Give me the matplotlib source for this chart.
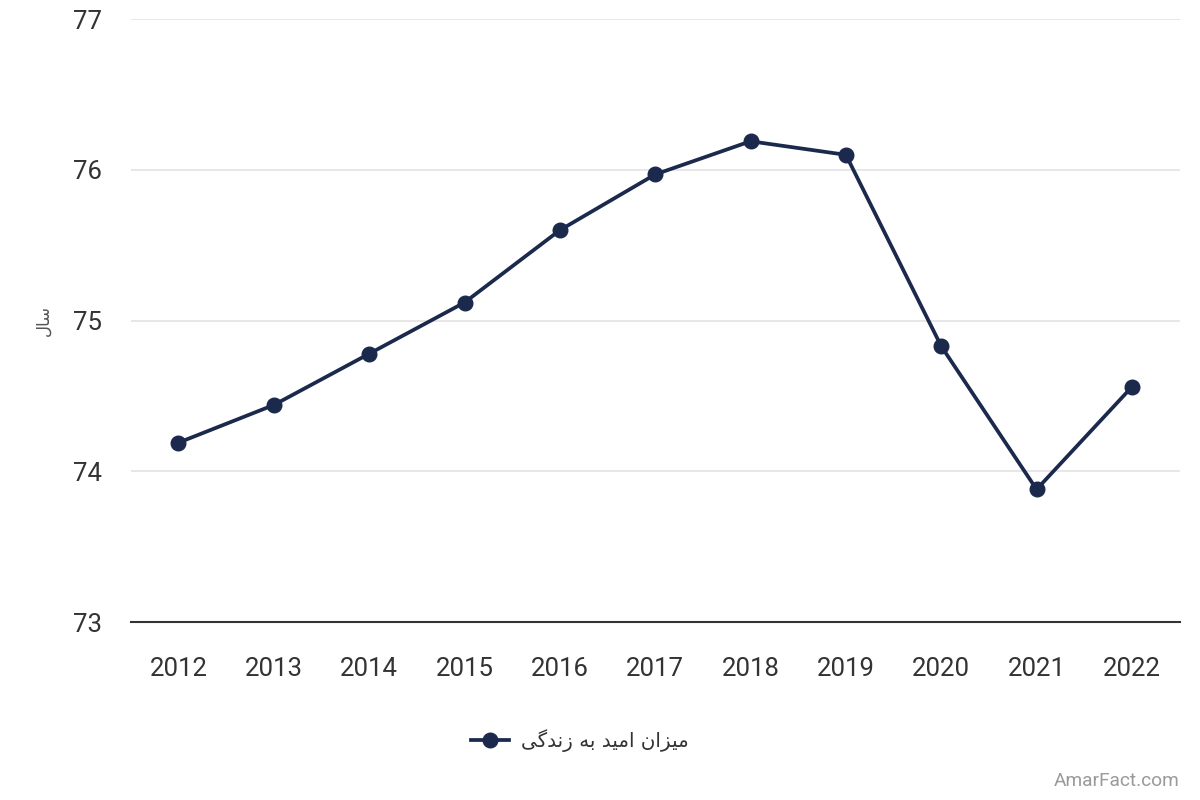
import matplotlib

matplotlib.use("Agg")
import matplotlib.pyplot as plt
from matplotlib.lines import Line2D

years = ["2012", "2013", "2014", "2015", "2016", "2017", "2018", "2019", "2020", "2021", "2022"]
life_expectancy = [74.19, 74.44, 74.78, 75.12, 75.60, 75.97, 76.19, 76.10, 74.83, 73.88, 74.56]
y_ticks = [73, 74, 75, 76, 77]
series_name = "میزان امید به زندگی"
y_label = "سال"
watermark = "AmarFact.com"

LINE_COLOR = "#1b2a4c"
TEXT_COLOR = "#333333"

# matplotlib has no Arabic shaping, so map letters to presentation forms
# (isolated, final[, initial, medial]) and reverse for visual order
FORMS = {
    "ا": ("\uFE8D", "\uFE8E"),
    "د": ("\uFEA9", "\uFEAA"),
    "ز": ("\uFEAF", "\uFEB0"),
    "ب": ("\uFE8F", "\uFE90", "\uFE91", "\uFE92"),
    "س": ("\uFEB1", "\uFEB2", "\uFEB3", "\uFEB4"),
    "ل": ("\uFEDD", "\uFEDE", "\uFEDF", "\uFEE0"),
    "م": ("\uFEE1", "\uFEE2", "\uFEE3", "\uFEE4"),
    "ن": ("\uFEE5", "\uFEE6", "\uFEE7", "\uFEE8"),
    "ه": ("\uFEE9", "\uFEEA", "\uFEEB", "\uFEEC"),
    "ی": ("\uFBFC", "\uFBFD", "\uFBFE", "\uFBFF"),
    "گ": ("\uFB92", "\uFB93", "\uFB94", "\uFB95"),
}


def shape_fa(text):
    out = []
    for i, ch in enumerate(text):
        forms = FORMS.get(ch)
        if forms is None:
            out.append(ch)
            continue
        prev = text[i - 1] if i > 0 else ""
        nxt = text[i + 1] if i + 1 < len(text) else ""
        join_prev = prev in FORMS and len(FORMS[prev]) == 4
        join_next = len(forms) == 4 and nxt in FORMS
        if join_prev and join_next:
            out.append(forms[3])
        elif join_prev:
            out.append(forms[1])
        elif join_next:
            out.append(forms[2])
        else:
            out.append(forms[0])
    return "".join(reversed(out))


plt.rcParams["font.family"] = ["Roboto", "DejaVu Sans"]

fig = plt.figure(figsize=(12, 8), dpi=100)
ax = fig.add_axes([0.109, 0.2225, 0.874, 0.7535])

x = list(range(len(years)))
ax.plot(x, life_expectancy, color=LINE_COLOR, linewidth=2.7, marker="o",
        markersize=10.5, zorder=3, clip_on=False)

ax.set_xlim(-0.5, len(years) - 0.5)
ax.set_ylim(73, 77)
ax.set_yticks(y_ticks)
ax.set_yticklabels([str(t) for t in y_ticks])
ax.set_xticks(x)
ax.set_xticklabels(years)

ax.grid(axis="y", color="#e3e3e3", linewidth=1.2)
ax.set_axisbelow(True)
for side in ("left", "right", "top"):
    ax.spines[side].set_visible(False)
ax.spines["bottom"].set_color("#333333")
ax.spines["bottom"].set_linewidth(1.5)
ax.spines["bottom"].set_zorder(4)

ax.tick_params(axis="both", length=0, labelsize=18.5, labelcolor=TEXT_COLOR)
ax.tick_params(axis="y", pad=21)
ax.tick_params(axis="x", pad=25)

fig.text(0.036, 0.6, shape_fa(y_label), rotation=90, ha="center", va="center",
         fontsize=12, color="#555555", family=["DejaVu Sans"])

handle = Line2D([], [], color=LINE_COLOR, linewidth=2.7, marker="o", markersize=10.5)
fig.legend([handle], [shape_fa(series_name)], loc="center", bbox_to_anchor=(0.483, 0.074),
           frameon=False, handlelength=1.9, handletextpad=0.6,
           prop={"family": ["DejaVu Sans"], "size": 14.3}, labelcolor=TEXT_COLOR)

fig.text(0.983, 0.013, watermark, ha="right", va="bottom", fontsize=13.8,
         color="#9a9a9a")

fig.savefig("out.png", dpi=100)
